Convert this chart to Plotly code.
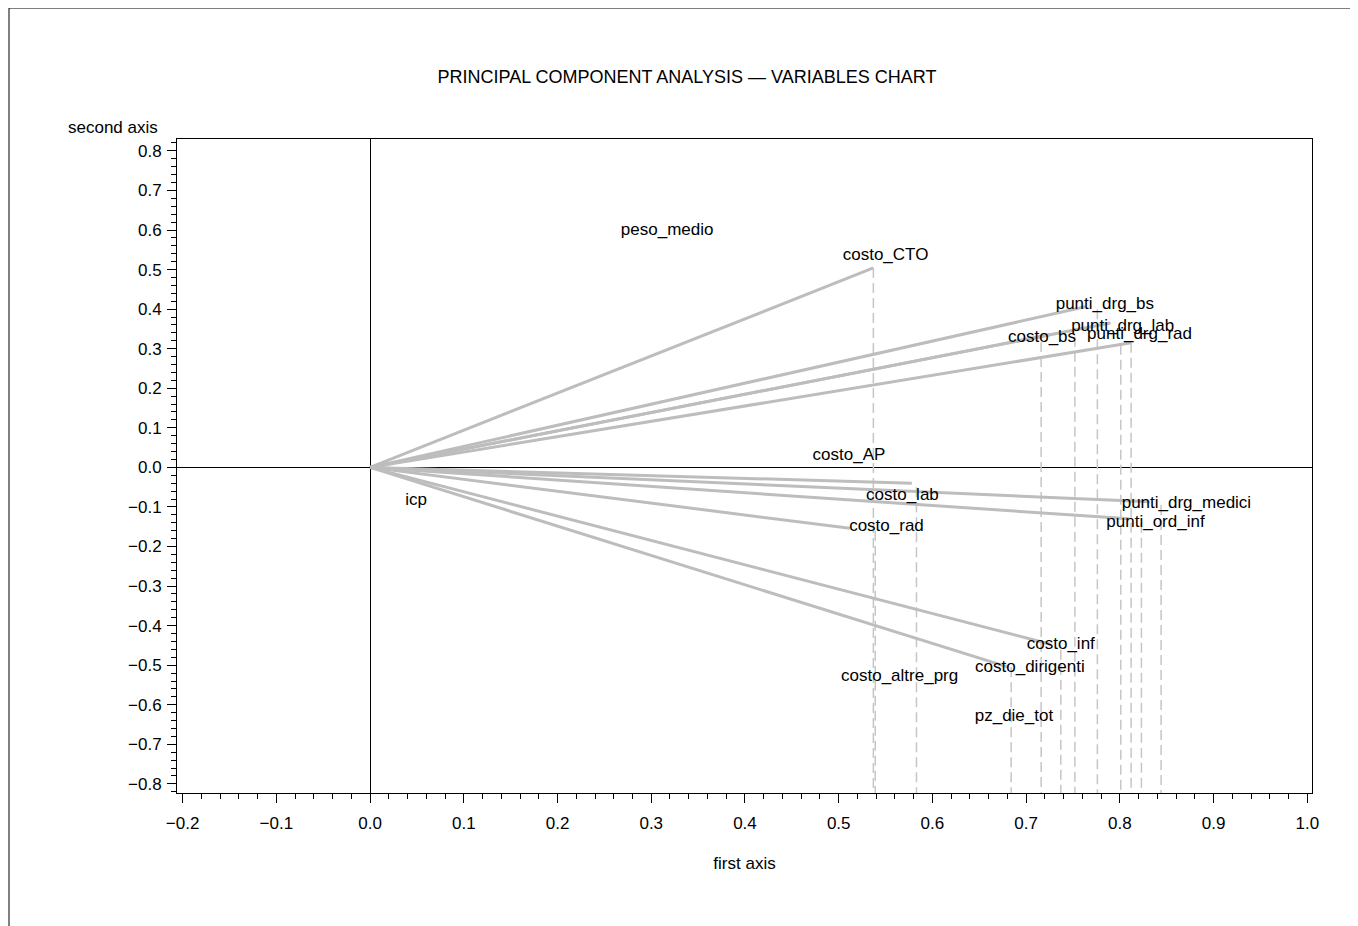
import plotly.graph_objects as go

# ---- data ----
# vector end points (first axis, second axis)
vec_x = [0.537, 0.763, 0.790, 0.725, 0.812, 0.578, 0.832, 0.810, 0.512, 0.726, 0.681]
vec_y = [0.504, 0.406, 0.365, 0.335, 0.315, -0.040, -0.087, -0.130, -0.154, -0.447, -0.505]

# projection (dashed) drops: point coordinates
drop_x = [0.537, 0.539, 0.776, 0.752, 0.716, 0.801, 0.812, 0.583, 0.844, 0.823, 0.684, 0.737]
drop_y = [0.504, -0.160, 0.400, 0.330, 0.317, 0.310, 0.315, -0.050, -0.095, -0.140, -0.505, -0.461]

# variable labels
lab_text = ["peso_medio", "costo_CTO", "punti_drg_bs", "punti_drg_lab", "costo_bs",
            "punti_drg_rad", "costo_AP", "icp", "costo_lab", "punti_drg_medici",
            "costo_rad", "punti_ord_inf", "costo_inf", "costo_dirigenti",
            "costo_altre_prg", "pz_die_tot"]
lab_x = [0.317, 0.550, 0.784, 0.803, 0.717, 0.821, 0.511, 0.049, 0.568, 0.871,
         0.551, 0.838, 0.737, 0.704, 0.565, 0.687]
lab_y = [0.598, 0.535, 0.411, 0.356, 0.327, 0.335, 0.029, -0.085, -0.072, -0.092,
         -0.150, -0.140, -0.449, -0.507, -0.529, -0.631]

x_ticks = [-0.2, -0.1, 0.0, 0.1, 0.2, 0.3, 0.4, 0.5, 0.6, 0.7, 0.8, 0.9, 1.0]
y_ticks = [-0.8, -0.7, -0.6, -0.5, -0.4, -0.3, -0.2, -0.1, 0.0, 0.1, 0.2, 0.3, 0.4, 0.5, 0.6, 0.7, 0.8]

X_RANGE = [-0.206, 1.005]
Y_RANGE = [-0.823, 0.830]

FONT = "Liberation Sans, Arial, sans-serif"

# page geometry (body has an 8px margin)
W, H = 1350, 918
PL, PT, PR, PB = 177, 139, 1312, 793   # plot area in screen pixels
PW, PH = PR - PL, PB - PT


def px_to_paper(sx, sy):
    return (sx - PL) / PW, (PB - sy) / PH


fig = go.Figure()

# dashed projections
dx, dy = [], []
for x, y in zip(drop_x, drop_y):
    dx += [x, x, None]
    dy += [y, Y_RANGE[0], None]
fig.add_trace(go.Scatter(x=dx, y=dy, mode="lines",
                         line=dict(color="#c6c6c6", width=1.5, dash="10px,5px"),
                         hoverinfo="skip", showlegend=False))

# vectors
vx, vy = [], []
for x, y in zip(vec_x, vec_y):
    vx += [0.0, x, None]
    vy += [0.0, y, None]
fig.add_trace(go.Scatter(x=vx, y=vy, mode="lines",
                         line=dict(color="#bdbdbd", width=3),
                         hoverinfo="skip", showlegend=False))

# labels
fig.add_trace(go.Scatter(x=lab_x, y=lab_y, mode="text", text=lab_text,
                         textposition="middle center",
                         textfont=dict(family=FONT, size=17, color="black"),
                         hoverinfo="skip", showlegend=False))

axis_common = dict(
    showgrid=False, zeroline=True, zerolinecolor="black", zerolinewidth=1,
    showline=True, linecolor="black", linewidth=1, mirror=True,
    ticks="outside", ticklen=9, tickwidth=1, tickcolor="black",
    tickfont=dict(family=FONT, size=17, color="black"),
    tickformat=".1f",
    minor=dict(ticks="outside", ticklen=5, tickwidth=1, tickcolor="black", dtick=0.02, showgrid=False),
)

fig.update_xaxes(range=X_RANGE, tickmode="array", tickvals=x_ticks, ticklabelstandoff=6,
                 title=dict(text="first axis", font=dict(family=FONT, size=17, color="black"), standoff=24),
                 **axis_common)
fig.update_yaxes(range=Y_RANGE, tickmode="array", tickvals=y_ticks, ticklabelstandoff=2, **axis_common)

# outer frame (top and left edges)
fx0, fy0 = px_to_paper(9, 8)
fx1, fy1 = px_to_paper(1400, 960)
fig.add_shape(type="line", xref="paper", yref="paper", x0=fx0, x1=fx1, y0=fy0, y1=fy0,
              line=dict(color="black", width=1))
fig.add_shape(type="line", xref="paper", yref="paper", x0=fx0, x1=fx0, y0=fy0, y1=fy1,
              line=dict(color="black", width=1))

ax_, ay_ = px_to_paper(113, 127)
fig.add_annotation(text="second axis", xref="paper", yref="paper", x=ax_, y=ay_,
                   showarrow=False, xanchor="center", yanchor="middle",
                   font=dict(family=FONT, size=17, color="black"))

fig.update_layout(
    width=W, height=H,
    margin=dict(l=PL - 8, r=W + 8 - PR, t=PT - 8, b=H + 8 - PB),
    paper_bgcolor="white", plot_bgcolor="white",
    title=dict(text="PRINCIPAL COMPONENT ANALYSIS \u2014 VARIABLES CHART",
               x=(687 - 8) / W, xanchor="center", y=1 - (77 - 8) / H, yanchor="middle",
               font=dict(family=FONT, size=18, color="black")),
)

fig.write_html("out.html")
